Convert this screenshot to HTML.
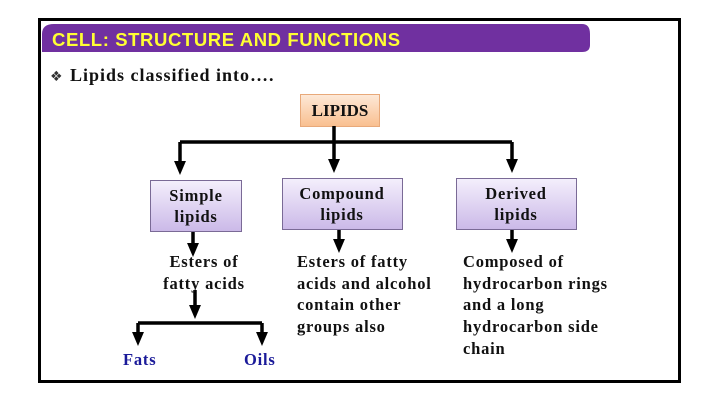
<!DOCTYPE html>
<html><head><meta charset="utf-8"><style>
html,body{margin:0;padding:0;background:#fff;width:720px;height:405px;overflow:hidden}
svg{display:block}
.t{font-family:"Liberation Serif",serif;font-weight:bold;font-size:16.5px;letter-spacing:0.8px;fill:#111}
</style></head><body>
<svg width="720" height="405" viewBox="0 0 720 405">
<defs>
<linearGradient id="pu" x1="0" y1="0" x2="0" y2="1"><stop offset="0" stop-color="#f4effc"/><stop offset="1" stop-color="#cbb9e8"/></linearGradient>
<linearGradient id="pe" x1="0" y1="0" x2="0" y2="1"><stop offset="0" stop-color="#fde9d8"/><stop offset="1" stop-color="#f9bf8f"/></linearGradient>
<marker id="a" markerWidth="4" markerHeight="4" refX="2" refY="2" orient="auto" markerUnits="strokeWidth"><path d="M0,0.3 L4,2 L0,3.7 z" fill="#000"/></marker>
</defs>
<rect x="39.5" y="19.5" width="640" height="362" fill="none" stroke="#000" stroke-width="3"/>
<path d="M42,52 L42,34 Q42,24 54,24 L582,24 Q590,24 590,34 L590,45 Q590,52 582,52 Z" fill="#7030a0"/>
<text x="52" y="46" font-family="Liberation Sans,sans-serif" font-weight="bold" font-size="18.5" letter-spacing="0.6" fill="#ffff33">CELL: STRUCTURE AND FUNCTIONS</text>
<text x="50" y="81" font-family="DejaVu Sans,sans-serif" font-size="14" fill="#333">❖</text>
<text class="t" x="70" y="81" style="font-size:18px;letter-spacing:1px">Lipids classified into….</text>
<rect x="300.5" y="94.5" width="79" height="32" fill="url(#pe)" stroke="#e8a97a"/>
<text class="t" x="340" y="116" text-anchor="middle" style="font-size:17px;letter-spacing:0">LIPIDS</text>
<g stroke="#000" stroke-width="3.5" fill="none">
<path d="M334,126 V142 M180,142 H512"/>
<path d="M180,142 V168" marker-end="url(#a)"/>
<path d="M334,142 V166" marker-end="url(#a)"/>
<path d="M512,142 V166" marker-end="url(#a)"/>
<path d="M193,232 V250" marker-end="url(#a)"/>
<path d="M339,230 V246" marker-end="url(#a)"/>
<path d="M512,230 V246" marker-end="url(#a)"/>
<path d="M195,290 V312" marker-end="url(#a)"/>
<path d="M138,323 H262"/>
<path d="M138,323 V339" marker-end="url(#a)"/>
<path d="M262,323 V339" marker-end="url(#a)"/>
</g>
<rect x="150.5" y="180.5" width="91" height="51" fill="url(#pu)" stroke="#7a6a96"/>
<rect x="282.5" y="178.5" width="120" height="51" fill="url(#pu)" stroke="#7a6a96"/>
<rect x="456.5" y="178.5" width="120" height="51" fill="url(#pu)" stroke="#7a6a96"/>
<text class="t" x="196" y="201" text-anchor="middle">Simple</text>
<text class="t" x="196" y="222" text-anchor="middle">lipids</text>
<text class="t" x="342" y="199" text-anchor="middle">Compound</text>
<text class="t" x="342" y="220" text-anchor="middle">lipids</text>
<text class="t" x="516" y="199" text-anchor="middle">Derived</text>
<text class="t" x="516" y="220" text-anchor="middle">lipids</text>
<text class="t" x="204" y="267" text-anchor="middle">Esters of</text>
<text class="t" x="204" y="289" text-anchor="middle">fatty acids</text>
<text class="t" x="297" y="267">Esters of fatty</text>
<text class="t" x="297" y="289">acids and alcohol</text>
<text class="t" x="297" y="310">contain other</text>
<text class="t" x="297" y="332">groups also</text>
<text class="t" x="463" y="267">Composed of</text>
<text class="t" x="463" y="289">hydrocarbon rings</text>
<text class="t" x="463" y="310">and a long</text>
<text class="t" x="463" y="332">hydrocarbon side</text>
<text class="t" x="463" y="354">chain</text>
<text class="t" x="123" y="365" style="fill:#1a1a99">Fats</text>
<text class="t" x="244" y="365" style="fill:#1a1a99">Oils</text>
</svg>
</body></html>
